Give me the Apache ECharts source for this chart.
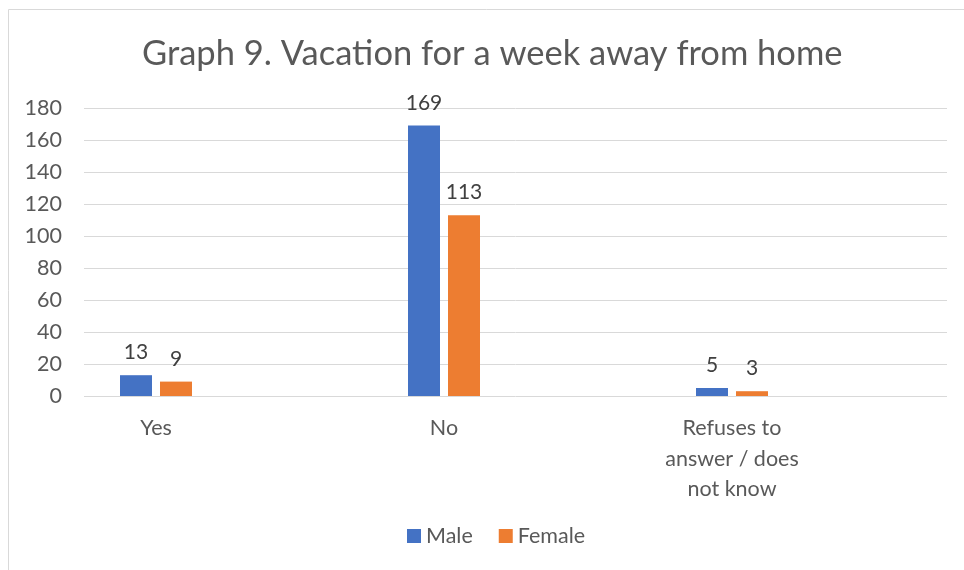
<!DOCTYPE html>
<html><head><meta charset="utf-8">
<script src="https://cdn.jsdelivr.net/npm/echarts@6/dist/echarts.min.js"></script>
<style>html,body{margin:0;padding:0;background:#fff}#c{width:964px;height:570px}</style>
</head><body><div id="c"></div>
<script>
const categories = ['Yes', 'No', 'Refuses to\nanswer / does\nnot know'];
const maleValues = [13, 169, 5];
const femaleValues = [9, 113, 3];
const yTicks = { min: 0, max: 180, interval: 20 };
const titleText = 'Graph 9. Vacation for a week away from home';

const FONT = 'Lato, "Open Sans", sans-serif';
const chart = echarts.init(document.getElementById('c'));
const labelStyle = { show: true, position: 'top', distance: 12, color: '#404040', fontSize: 21, fontFamily: FONT };
chart.setOption({
  animation: false,
  title: { text: titleText, left: 137, top: 31, textStyle: { fontFamily: FONT, fontSize: 34.5, fontWeight: 'normal', color: '#595959' } },
  graphic: [{ type: 'rect', shape: { x: 8.5, y: 9.5, width: 1200, height: 800 }, style: { fill: 'none', stroke: '#d9d9d9', lineWidth: 1 }, silent: true, z: -10 }],
  legend: { bottom: 18, left: 402, itemWidth: 14, itemHeight: 14, itemGap: 26, itemTextGap: 7, icon: 'rect',
    textStyle: { fontFamily: FONT, fontSize: 21.5, color: '#595959' }, data: ['Male', 'Female'] },
  grid: [
    { left: 84, right: 17, top: 108, bottom: 174 },
    { left: 12, right: 88, top: 108, bottom: 174 }
  ],
  xAxis: [
    { type: 'category', gridIndex: 0, data: categories, show: false },
    { type: 'category', gridIndex: 1, data: categories,
      axisLine: { show: false }, axisTick: { show: false },
      axisLabel: { interval: 0, margin: 17, color: '#595959', fontSize: 21.5, lineHeight: 30.5, fontFamily: FONT } }
  ],
  yAxis: [
    { type: 'value', gridIndex: 0, min: yTicks.min, max: yTicks.max, interval: yTicks.interval,
      axisLine: { show: false }, axisTick: { show: false },
      axisLabel: { margin: 22, color: '#595959', fontSize: 21.5, fontFamily: FONT },
      splitLine: { lineStyle: { color: '#d9d9d9', width: 1 } } },
    { type: 'value', gridIndex: 1, min: yTicks.min, max: yTicks.max, interval: yTicks.interval, show: false, splitLine: { show: false } }
  ],
  series: [
    { name: 'Male', type: 'bar', xAxisIndex: 1, yAxisIndex: 1, data: maleValues, barWidth: 32, barGap: '25%', itemStyle: { color: '#4472C4' }, label: labelStyle },
    { name: 'Female', type: 'bar', xAxisIndex: 1, yAxisIndex: 1, data: femaleValues, barWidth: 32, barGap: '25%', itemStyle: { color: '#ED7D31' }, label: labelStyle }
  ]
});
</script></body></html>
